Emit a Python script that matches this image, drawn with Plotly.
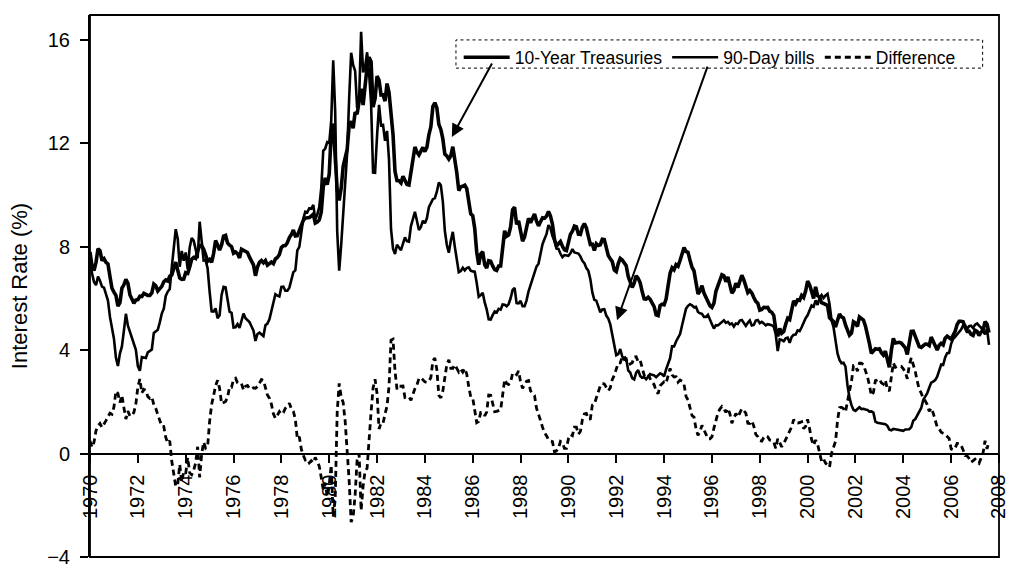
import plotly.graph_objects as go

# Monthly rates, Jan 1970 - Aug 2007
start_year = 1970
treasury_10y = [
    7.79, 7.24, 7.07, 7.39, 7.91, 7.84, 7.46, 7.53, 7.39, 7.33, 6.84, 6.39,
    6.24, 6.11, 5.70, 5.83, 6.39, 6.52, 6.73, 6.58, 6.14, 5.93, 5.81, 5.93,
    5.95, 6.08, 6.07, 6.19, 6.13, 6.11, 6.11, 6.21, 6.55, 6.48, 6.28, 6.36,
    6.46, 6.64, 6.71, 6.67, 6.85, 6.90, 7.13, 7.40, 7.09, 6.79, 6.73, 6.74,
    6.99, 6.96, 7.21, 7.51, 7.58, 7.54, 7.81, 8.04, 8.04, 7.90, 7.68, 7.43,
    7.50, 7.39, 7.73, 8.23, 8.06, 7.86, 8.06, 8.40, 8.43, 8.14, 8.05, 8.00,
    7.74, 7.79, 7.73, 7.56, 7.90, 7.86, 7.83, 7.77, 7.59, 7.41, 7.29, 6.87,
    7.21, 7.39, 7.46, 7.37, 7.46, 7.28, 7.33, 7.40, 7.34, 7.52, 7.58, 7.69,
    7.96, 8.03, 8.04, 8.15, 8.35, 8.46, 8.64, 8.41, 8.42, 8.64, 8.81, 9.01,
    9.10, 9.10, 9.12, 9.18, 9.25, 8.91, 8.95, 9.03, 9.33, 10.30, 10.65, 10.39,
    10.80, 12.41, 12.75, 11.47, 10.18, 9.78, 10.25, 11.10, 11.51, 11.75, 12.68, 12.84,
    12.57, 13.19, 13.12, 13.68, 14.10, 13.47, 14.28, 14.94, 15.32, 15.15, 13.39, 13.72,
    14.59, 14.43, 13.86, 13.87, 13.62, 14.30, 13.95, 13.06, 12.34, 10.91, 10.55, 10.54,
    10.46, 10.72, 10.51, 10.40, 10.38, 10.85, 11.38, 11.85, 11.65, 11.54, 11.69, 11.83,
    11.67, 11.84, 12.32, 12.63, 13.41, 13.56, 13.36, 12.72, 12.52, 12.16, 11.57, 11.50,
    11.38, 11.51, 11.86, 11.43, 10.85, 10.16, 10.31, 10.33, 10.37, 10.24, 9.78, 9.26,
    9.19, 8.70, 7.78, 7.30, 7.71, 7.80, 7.30, 7.17, 7.45, 7.43, 7.25, 7.11,
    7.08, 7.25, 7.25, 8.02, 8.61, 8.40, 8.45, 8.76, 9.42, 9.52, 8.86, 8.99,
    8.67, 8.21, 8.37, 8.72, 9.09, 8.92, 9.06, 9.26, 8.98, 8.80, 8.96, 9.11,
    9.09, 9.17, 9.36, 9.18, 8.86, 8.28, 8.02, 8.11, 8.19, 8.01, 7.87, 7.84,
    8.21, 8.47, 8.59, 8.79, 8.76, 8.48, 8.47, 8.75, 8.89, 8.72, 8.39, 8.08,
    8.09, 7.85, 8.11, 8.04, 8.07, 8.28, 8.27, 7.90, 7.65, 7.53, 7.42, 7.09,
    7.03, 7.34, 7.54, 7.48, 7.39, 7.26, 6.84, 6.59, 6.42, 6.59, 6.87, 6.77,
    6.60, 6.26, 5.98, 5.97, 6.04, 5.96, 5.81, 5.68, 5.36, 5.33, 5.72, 5.77,
    5.75, 5.97, 6.48, 6.97, 7.18, 7.10, 7.30, 7.24, 7.46, 7.74, 7.96, 7.81,
    7.78, 7.47, 7.20, 7.06, 6.63, 6.17, 6.28, 6.49, 6.20, 6.04, 5.93, 5.71,
    5.65, 5.81, 6.27, 6.51, 6.74, 6.91, 6.87, 6.64, 6.83, 6.53, 6.20, 6.30,
    6.58, 6.42, 6.69, 6.89, 6.71, 6.49, 6.22, 6.30, 6.21, 6.03, 5.88, 5.81,
    5.54, 5.57, 5.65, 5.64, 5.65, 5.50, 5.46, 5.34, 4.81, 4.53, 4.83, 4.65,
    4.72, 5.00, 5.23, 5.18, 5.54, 5.90, 5.79, 5.94, 5.92, 6.11, 6.03, 6.28,
    6.66, 6.52, 6.26, 5.99, 6.44, 6.10, 6.05, 5.83, 5.80, 5.74, 5.72, 5.24,
    5.16, 5.10, 4.89, 5.14, 5.39, 5.28, 5.24, 4.97, 4.73, 4.57, 4.65, 5.09,
    5.04, 4.91, 5.28, 5.21, 5.16, 4.93, 4.65, 4.26, 3.87, 3.94, 4.05, 4.03,
    4.05, 3.90, 3.81, 3.96, 3.57, 3.33, 3.98, 4.45, 4.27, 4.29, 4.30, 4.27,
    4.15, 4.08, 3.83, 4.35, 4.72, 4.73, 4.50, 4.28, 4.13, 4.10, 4.19, 4.23,
    4.22, 4.17, 4.50, 4.34, 4.14, 4.00, 4.18, 4.26, 4.20, 4.46, 4.54, 4.47,
    4.42, 4.57, 4.72, 4.99, 5.11, 5.11, 5.09, 4.88, 4.72, 4.73, 4.60, 4.56,
    4.76, 4.72, 4.56, 4.69, 4.75, 5.10, 5.00, 4.67,
]
bills_90d = [
    7.30, 7.00, 6.63, 6.51, 6.84, 6.68, 6.45, 6.41, 6.12, 5.91, 5.28, 4.87,
    4.44, 3.70, 3.38, 3.86, 4.14, 4.75, 5.40, 4.94, 4.69, 4.46, 4.22, 4.01,
    3.38, 3.20, 3.73, 3.71, 3.69, 3.91, 3.98, 4.02, 4.66, 4.74, 4.78, 5.07,
    5.41, 5.60, 6.09, 6.26, 6.36, 7.19, 8.01, 8.67, 8.29, 7.22, 7.83, 7.45,
    7.77, 7.12, 7.96, 8.33, 8.23, 7.90, 7.55, 8.96, 8.06, 7.46, 7.47, 7.15,
    6.26, 5.50, 5.49, 5.61, 5.23, 5.34, 6.13, 6.44, 6.42, 5.96, 5.48, 5.44,
    4.87, 4.88, 5.00, 4.86, 5.20, 5.41, 5.23, 5.14, 5.08, 4.92, 4.75, 4.35,
    4.62, 4.67, 4.60, 4.54, 4.96, 5.02, 5.19, 5.49, 5.81, 6.16, 6.10, 6.07,
    6.44, 6.45, 6.29, 6.29, 6.41, 6.73, 7.01, 7.08, 7.85, 7.99, 8.64, 9.08,
    9.35, 9.32, 9.48, 9.46, 9.61, 9.06, 9.24, 9.52, 10.26, 11.70, 11.79, 12.04,
    12.00, 12.86, 15.20, 13.20, 8.58, 7.07, 8.06, 9.13, 10.27, 11.62, 13.73, 15.49,
    15.02, 14.79, 13.36, 13.69, 16.30, 14.73, 14.95, 15.51, 14.70, 13.54, 10.86, 10.85,
    12.28, 13.48, 12.68, 12.70, 12.09, 12.47, 11.35, 8.68, 7.92, 7.71, 8.07, 7.94,
    7.86, 8.11, 8.35, 8.21, 8.19, 8.79, 9.08, 9.34, 9.00, 8.64, 8.76, 9.00,
    8.90, 9.09, 9.52, 9.69, 9.83, 9.87, 10.12, 10.47, 10.37, 9.74, 8.61, 8.06,
    7.76, 8.22, 8.57, 8.00, 7.56, 7.01, 7.05, 7.18, 7.08, 7.17, 7.20, 7.07,
    7.04, 7.03, 6.59, 6.06, 6.12, 6.21, 5.84, 5.57, 5.19, 5.18, 5.35, 5.49,
    5.45, 5.59, 5.56, 5.76, 5.75, 5.69, 5.78, 6.00, 6.32, 6.40, 5.81, 5.80,
    5.90, 5.69, 5.69, 5.92, 6.27, 6.50, 6.73, 7.02, 7.23, 7.34, 7.68, 8.09,
    8.29, 8.48, 8.83, 8.70, 8.40, 8.22, 7.92, 7.91, 7.72, 7.59, 7.67, 7.64,
    7.64, 7.74, 7.90, 7.77, 7.74, 7.73, 7.62, 7.45, 7.36, 7.17, 7.06, 6.74,
    6.22, 5.94, 5.91, 5.65, 5.46, 5.57, 5.58, 5.33, 5.22, 4.99, 4.56, 4.07,
    3.80, 3.84, 4.04, 3.75, 3.63, 3.66, 3.21, 3.13, 2.91, 2.86, 3.13, 3.22,
    3.00, 2.93, 2.95, 2.87, 2.96, 3.07, 3.04, 3.02, 2.95, 3.02, 3.10, 3.06,
    2.98, 3.25, 3.50, 3.68, 4.14, 4.14, 4.33, 4.48, 4.62, 4.95, 5.29, 5.60,
    5.71, 5.77, 5.73, 5.65, 5.67, 5.47, 5.42, 5.40, 5.28, 5.28, 5.36, 5.14,
    5.00, 4.83, 4.96, 4.95, 5.02, 5.09, 5.15, 5.05, 5.09, 4.99, 5.03, 4.91,
    5.03, 5.01, 5.14, 5.16, 5.05, 4.93, 5.05, 5.14, 4.95, 4.97, 5.14, 5.16,
    5.04, 5.09, 5.03, 4.95, 5.00, 4.98, 4.96, 4.90, 4.61, 3.96, 4.41, 4.39,
    4.34, 4.45, 4.48, 4.28, 4.51, 4.59, 4.60, 4.76, 4.73, 4.88, 5.07, 5.23,
    5.34, 5.57, 5.72, 5.67, 5.92, 5.74, 6.03, 6.13, 6.01, 6.11, 6.17, 5.77,
    5.15, 4.88, 4.42, 3.87, 3.62, 3.49, 3.51, 3.36, 2.64, 2.16, 1.87, 1.69,
    1.65, 1.73, 1.79, 1.72, 1.73, 1.70, 1.68, 1.62, 1.63, 1.58, 1.23, 1.19,
    1.17, 1.17, 1.13, 1.13, 1.07, 0.92, 0.90, 0.95, 0.94, 0.92, 0.93, 0.90,
    0.88, 0.93, 0.94, 0.94, 1.02, 1.27, 1.33, 1.48, 1.65, 1.76, 2.07, 2.19,
    2.33, 2.54, 2.74, 2.78, 2.84, 2.97, 3.22, 3.44, 3.42, 3.71, 3.88, 3.89,
    4.24, 4.43, 4.51, 4.60, 4.72, 4.79, 4.95, 4.96, 4.81, 4.92, 4.94, 4.85,
    4.98, 5.03, 4.94, 4.87, 4.73, 4.61, 4.82, 4.20,
]
# Difference = 10-Year Treasuries minus 90-Day bills (definition of the dashed series)
difference = [round(a - b, 2) for a, b in zip(treasury_10y, bills_90d)]

x_years = [start_year + i / 12 for i in range(len(treasury_10y))]
x_ticks = list(range(1970, 2009, 2))
y_ticks = [-4, 0, 4, 8, 12, 16]
y_min, y_max = -4, 16.95

font_family = "Liberation Sans, Arial, sans-serif"

fig = go.Figure()
fig.add_trace(go.Scatter(x=x_years, y=treasury_10y, mode="lines", name="10-Year Treasuries",
                         line=dict(color="black", width=3.6)))
fig.add_trace(go.Scatter(x=x_years, y=bills_90d, mode="lines", name="90-Day bills",
                         line=dict(color="black", width=2.6)))
fig.add_trace(go.Scatter(x=x_years, y=difference, mode="lines", name="Difference",
                         line=dict(color="black", width=2.8, dash="6px,4px")))

zero_pos = (0 - y_min) / (y_max - y_min)

fig.update_layout(
    width=1010, height=571,
    margin=dict(l=90, r=11, t=15, b=14),
    paper_bgcolor="white", plot_bgcolor="white",
    font=dict(family=font_family, color="black"),
    showlegend=True,
    legend=dict(orientation="h", x=0.4056, y=0.955, xanchor="left", yanchor="top",
                font=dict(size=17.5, family=font_family), bgcolor="rgba(255,255,255,0)",
                borderwidth=0, entrywidth=0, itemwidth=46, tracegroupgap=0),
    xaxis=dict(range=[1969.999, 2008.001], tickvals=x_ticks, ticktext=[str(t) for t in x_ticks],
               tickangle=-90, ticks="outside", ticklen=8, tickwidth=1.5, tickcolor="black",
               showline=True, linecolor="black", linewidth=2, showgrid=False, zeroline=False,
               anchor="free", position=zero_pos, tickfont=dict(size=20), automargin=False,
               ticklabelstandoff=4, ticklabeloverflow="allow"),
    yaxis=dict(range=[y_min, y_max], tickvals=y_ticks, ticks="outside", ticklen=8, tickwidth=1.5,
               tickcolor="black", showline=True, linecolor="black", linewidth=2, showgrid=False,
               zeroline=False, tickfont=dict(size=20), automargin=False, ticklabelstandoff=6,
               title=dict(text="Interest Rate (%)", font=dict(size=22), standoff=13)),
)

# plot frame (top, right, bottom)
fig.add_shape(type="rect", xref="paper", yref="paper", x0=0, x1=1, y0=0, y1=1,
              line=dict(color="black", width=1.8), layer="above")
# dashed legend box
fig.add_shape(type="rect", xref="paper", yref="paper", x0=0.4026, x1=0.982, y0=0.902, y1=0.954,
              line=dict(color="black", width=1, dash="dot"), layer="above")

# arrows from legend to lines
fig.add_annotation(xref="paper", yref="paper", x=0.398, y=0.775, ax=41, ay=-75,
                   text="", showarrow=True, arrowhead=2, arrowsize=1.3, arrowwidth=2,
                   arrowcolor="black")
fig.add_annotation(xref="paper", yref="paper", x=0.5798, y=0.437, ax=91, ay=-255,
                   text="", showarrow=True, arrowhead=2, arrowsize=1.3, arrowwidth=2,
                   arrowcolor="black")

fig.write_html("out.html", config={"displayModeBar": False},
               post_script="document.body.style.margin='0px';")
